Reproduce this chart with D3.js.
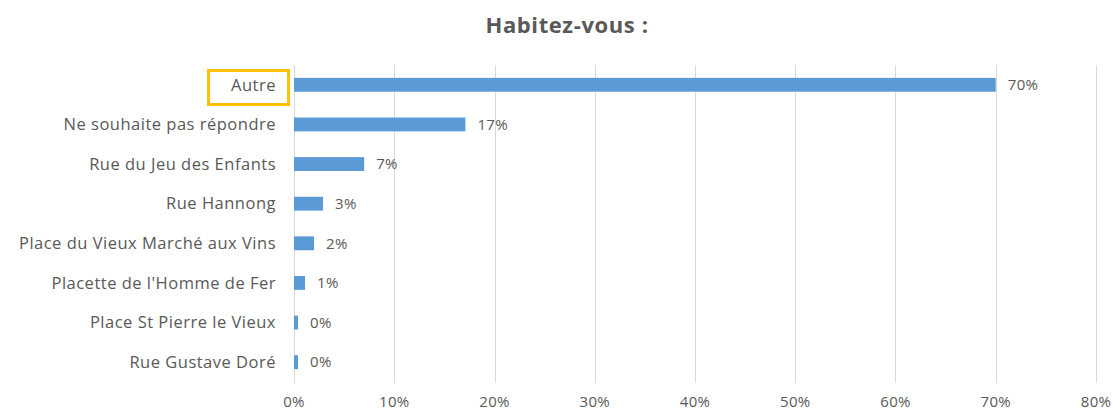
<!DOCTYPE html>
<html>
<head>
<meta charset="utf-8">
<style>
  body { margin: 0; background: #fff; }
  text { font-family: "Open Sans", "Liberation Sans", sans-serif; fill: #595959; }
  .grid line { stroke: #d9d9d9; stroke-width: 1; }
</style>
</head>
<body>
<svg id="chart"></svg>
<script src="https://d3js.org/d3.v7.min.js"></script>
<script>
// data
var categories = ["Autre", "Ne souhaite pas répondre", "Rue du Jeu des Enfants", "Rue Hannong",
  "Place du Vieux Marché aux Vins", "Placette de l'Homme de Fer", "Place St Pierre le Vieux", "Rue Gustave Doré"];
var values = [0.70, 0.171, 0.070, 0.029, 0.020, 0.011, 0.004, 0.004];
var xTicks = [0, 0.1, 0.2, 0.3, 0.4, 0.5, 0.6, 0.7, 0.8];
var title = "Habitez-vous :";
var highlighted = "Autre";

var W = 1113, H = 412;
var m = {left: 294, right: 17, top: 65, bottom: 30};

var svg = d3.select("#chart").attr("width", W).attr("height", H);

var x = d3.scaleLinear().domain([0, 0.8]).range([m.left, W - m.right]);
// outer padding = half the inner one, so rows sit evenly in the plot
var y = d3.scaleBand().domain(categories).range([m.top, H - m.bottom]).paddingInner(0.65).paddingOuter(0.325);

// title
svg.append("text")
  .attr("x", 567).attr("y", 33)
  .attr("text-anchor", "middle")
  .style("font-size", "22px").style("font-weight", "bold")
  .style("letter-spacing", "0.6px")
  .text(title);

// gridlines
svg.append("g").attr("class", "grid")
  .selectAll("line").data(xTicks).enter().append("line")
  .attr("x1", function(d) { return Math.round(x(d)) + 0.5; })
  .attr("x2", function(d) { return Math.round(x(d)) + 0.5; })
  .attr("y1", m.top).attr("y2", 383);

// x tick labels
svg.append("g").selectAll("text").data(xTicks).enter().append("text")
  .attr("x", function(d) { return x(d); })
  .attr("y", 407)
  .attr("text-anchor", "middle")
  .style("font-size", "15px")
  .style("letter-spacing", "0.3px")
  .text(d3.format(".0%"));

// bars
svg.append("g").selectAll("rect").data(values).enter().append("rect")
  .attr("x", x(0))
  .attr("y", function(d, i) { return y(categories[i]); })
  .attr("width", function(d) { return x(d) - x(0); })
  .attr("height", y.bandwidth())
  .attr("fill", "#5b9bd5");

// value labels
svg.append("g").selectAll("text").data(values).enter().append("text")
  .attr("x", function(d) { return x(d) + 12; })
  .attr("y", function(d, i) { return y(categories[i]) + y.bandwidth() / 2; })
  .attr("dy", "0.35em")
  .style("font-size", "15px")
  .style("letter-spacing", "0.3px")
  .text(d3.format(".0%"));

// category labels
svg.append("g").selectAll("text").data(categories).enter().append("text")
  .attr("x", m.left - 18)
  .attr("y", function(d) { return y(d) + y.bandwidth() / 2; })
  .attr("dy", "0.35em")
  .attr("text-anchor", "end")
  .style("font-size", "16.5px")
  .style("letter-spacing", "0.5px")
  .text(function(d) { return d; });

// highlight box around one label
svg.append("rect")
  .attr("x", 208.5).attr("y", 70.5)
  .attr("width", 80).attr("height", 34)
  .attr("fill", "none")
  .attr("stroke", "#ffc000")
  .attr("stroke-width", 3);
</script>
</body>
</html>
